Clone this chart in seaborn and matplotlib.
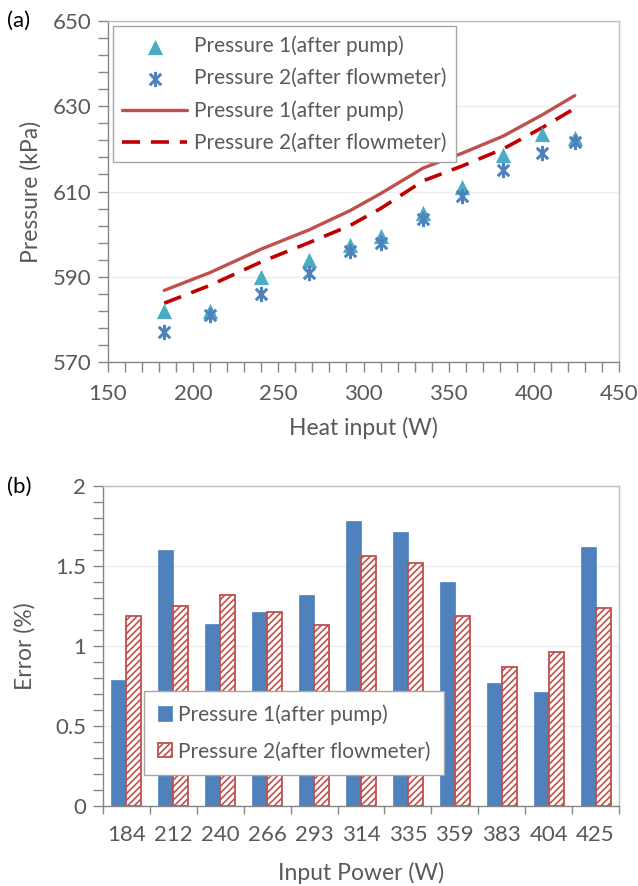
# Two-panel chart: (a) pressure vs heat input, (b) error of each pressure vs input power
import matplotlib
matplotlib.use("Agg")
import matplotlib.pyplot as plt
import seaborn as sns
import pandas as pd
from matplotlib.path import Path
from matplotlib.ticker import MultipleLocator, FixedLocator

# ---- data ----
heat_input = [183, 210, 240, 268, 292, 310, 335, 358, 382, 405, 424]
p1_measured = [582, 582, 590, 594, 597.5, 599.5, 605, 611, 618.5, 623.5, 622.5]
p2_measured = [577, 581, 586, 591, 596, 598, 603.5, 609, 615, 619, 621.5]
p1_model = [586.8, 591, 596.5, 601, 605.5, 609.5, 615.5, 619, 623, 628, 632.5]
p2_model = [583.8, 588, 593.5, 598, 602, 606, 612.5, 616, 620, 625, 629.5]

power_labels = ["184", "212", "240", "266", "293", "314", "335", "359", "383", "404", "425"]
err_p1 = [0.79, 1.60, 1.14, 1.21, 1.32, 1.78, 1.71, 1.40, 0.77, 0.71, 1.62]
err_p2 = [1.19, 1.25, 1.32, 1.21, 1.13, 1.56, 1.52, 1.19, 0.87, 0.96, 1.24]

label1 = "Pressure 1(after pump)"
label2 = "Pressure 2(after flowmeter)"

sns.set_style("white")
plt.rcParams["font.family"] = ["Lato", "DejaVu Sans"]
text_grey = "#595959"
axis_grey = "#868686"
plt.rcParams["text.color"] = text_grey
plt.rcParams["axes.labelcolor"] = text_grey
plt.rcParams["xtick.color"] = axis_grey
plt.rcParams["ytick.color"] = axis_grey
plt.rcParams["xtick.labelcolor"] = text_grey
plt.rcParams["ytick.labelcolor"] = text_grey
plt.rcParams["hatch.linewidth"] = 1.2

TICK_FS = 16
LABEL_FS = 16.5
LEG_FS = 15

# Excel-style star: an X with a vertical bar through it
star = Path([(0, -1), (0, 1), (-0.75, -0.75), (0.75, 0.75), (-0.75, 0.75), (0.75, -0.75)],
            [Path.MOVETO, Path.LINETO, Path.MOVETO, Path.LINETO, Path.MOVETO, Path.LINETO])

fig = plt.figure(figsize=(6.38, 8.86), dpi=100)
ax1 = fig.add_axes([0.1693, 0.5914, 0.801, 0.3849])
ax2 = fig.add_axes([0.1614, 0.0903, 0.8088, 0.3612])


def style_axes(ax):
    for side in ["left", "bottom"]:
        ax.spines[side].set_color(axis_grey)
        ax.spines[side].set_linewidth(1.0)
    for side in ["top", "right"]:
        ax.spines[side].set_color("#BFBFBF")
        ax.spines[side].set_linewidth(1.0)
    ax.grid(axis="y", which="major", color="#EDEDED", linewidth=1.0)
    ax.set_axisbelow(True)
    ax.tick_params(which="both", direction="out", bottom=True, left=True,
                   top=False, right=False, labelsize=TICK_FS, pad=5)
    ax.tick_params(which="major", length=7, width=1)
    ax.tick_params(which="minor", length=7, width=1)


# ---- panel (a) ----
sns.scatterplot(x=heat_input, y=p1_measured, ax=ax1, marker="^", s=120,
                color="#4BACC6", edgecolor="#4BACC6", linewidth=0, label=label1, zorder=3)
sns.scatterplot(x=heat_input, y=p2_measured, ax=ax1, marker=star, s=120,
                color="#4F81BD", edgecolor="#4F81BD", linewidth=2.2, label=label2, zorder=3)
sns.lineplot(x=heat_input, y=p1_model, ax=ax1, color="#C0504D", linewidth=2.4,
             label=label1, zorder=2)
sns.lineplot(x=heat_input, y=p2_model, ax=ax1, color="#C00000", linewidth=2.6,
             linestyle=(0, (5, 3)), label=label2, zorder=2)

ax1.set_xlim(150, 450)
ax1.set_ylim(570, 650)
ax1.xaxis.set_major_locator(MultipleLocator(50))
ax1.xaxis.set_minor_locator(MultipleLocator(10))
ax1.yaxis.set_major_locator(MultipleLocator(20, offset=10))
ax1.yaxis.set_minor_locator(MultipleLocator(4, offset=2))
style_axes(ax1)
ax1.tick_params(axis="x", which="both", pad=9)
ax1.set_xlabel("Heat input (W)", fontsize=LABEL_FS, labelpad=9)
ax1.set_ylabel("Pressure (kPa)", fontsize=LABEL_FS, labelpad=8)
leg1 = ax1.legend(loc="upper left", bbox_to_anchor=(0.01, 0.985), fontsize=LEG_FS,
                  frameon=True, fancybox=False, framealpha=1, edgecolor="#A6A6A6",
                  handlelength=3.1, labelspacing=0.58, borderpad=0.45, handletextpad=0.35,
                  borderaxespad=0)
leg1.get_frame().set_linewidth(1.0)

# ---- panel (b) ----
err_df = pd.DataFrame({
    "power": power_labels * 2,
    "error": err_p1 + err_p2,
    "series": [label1] * len(err_p1) + [label2] * len(err_p2),
})
sns.barplot(data=err_df, x="power", y="error", hue="series", ax=ax2,
            palette=["#4F81BD", "white"], width=0.64, gap=0, dodge=True,
            saturation=1, legend=False, zorder=2)

for bar in ax2.containers[0]:
    bar.set_edgecolor("#4F81BD")
    bar.set_linewidth(0.5)
for bar in ax2.containers[1]:
    bar.set_facecolor("white")
    bar.set_edgecolor("#C0504D")
    bar.set_hatch("/////")
    bar.set_linewidth(1.3)

ax2.set_xlim(-0.5, len(power_labels) - 0.5)
ax2.set_ylim(0, 2)
ax2.yaxis.set_major_locator(MultipleLocator(0.5))
ax2.yaxis.set_minor_locator(MultipleLocator(0.1))
ax2.xaxis.set_minor_locator(FixedLocator([i - 0.5 for i in range(len(power_labels) + 1)]))
ax2.yaxis.set_major_formatter(plt.FuncFormatter(lambda v, _: f"{v:g}"))
style_axes(ax2)
ax2.tick_params(axis="x", which="major", length=0, pad=14)
ax2.tick_params(axis="x", which="minor", length=6)
ax2.set_xlabel("Input Power (W)", fontsize=LABEL_FS, labelpad=12)
ax2.set_ylabel("Error (%)", fontsize=LABEL_FS, labelpad=14)
leg2 = ax2.legend(handles=[ax2.containers[0], ax2.containers[1]], labels=[label1, label2],
                  loc="lower left", bbox_to_anchor=(0.08, 0.097), fontsize=LEG_FS,
                  frameon=True, fancybox=False, framealpha=1, edgecolor="#A6A6A6",
                  handlelength=0.7, handleheight=0.7, labelspacing=0.8,
                  borderpad=0.65, handletextpad=0.25, borderaxespad=0)
leg2.get_frame().set_linewidth(1.0)

# panel letters
fig.text(0.011, 0.977, "(a)", fontsize=16, color="black", va="center")
fig.text(0.011, 0.451, "(b)", fontsize=16, color="black", va="center")

fig.savefig("out.png", dpi=100)
